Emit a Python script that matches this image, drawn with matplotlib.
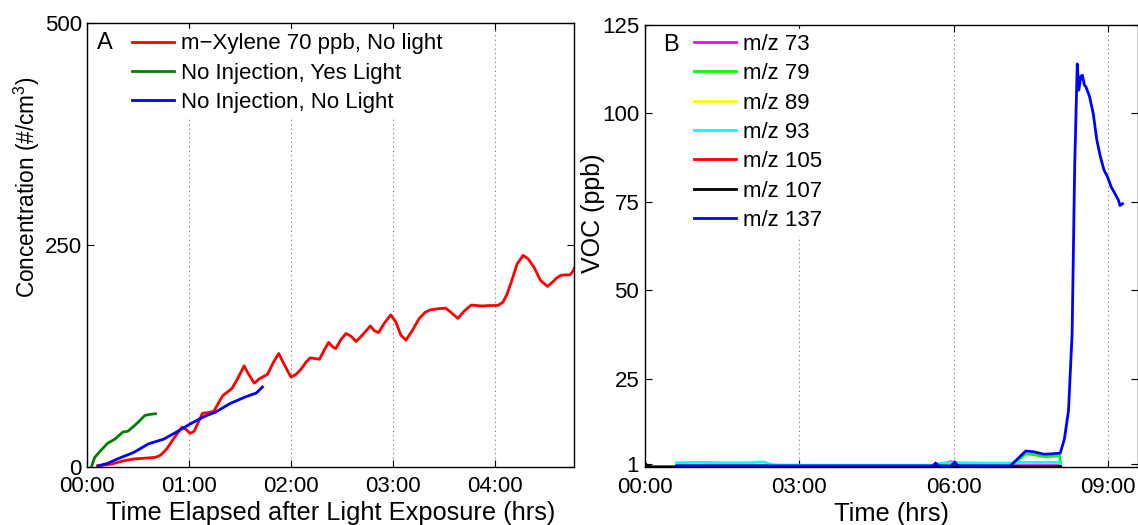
import matplotlib
matplotlib.use("Agg")
import matplotlib.pyplot as plt

plt.rcParams['font.family'] = ['Liberation Sans', 'DejaVu Sans']
plt.rcParams['mathtext.default'] = 'regular'

# ---------------- Panel A data (hours, #/cm3) ----------------
xylene_t = [0.10, 0.24, 0.35, 0.455, 0.67, 0.72, 0.78, 0.85, 0.93, 0.97, 1.01, 1.05, 1.13,
            1.24, 1.33, 1.42, 1.48, 1.54, 1.58, 1.64, 1.69, 1.77, 1.83, 1.88, 1.93, 2.00,
            2.05, 2.10, 2.15, 2.19, 2.28, 2.33, 2.37, 2.41, 2.44, 2.49, 2.54, 2.59, 2.64,
            2.70, 2.78, 2.82, 2.86, 2.92, 2.98, 3.03, 3.08, 3.13, 3.19, 3.26, 3.32, 3.37,
            3.45, 3.52, 3.58, 3.64, 3.70, 3.77, 3.88, 3.95, 4.03, 4.08, 4.12, 4.17, 4.22,
            4.28, 4.33, 4.39, 4.45, 4.52, 4.57, 4.61, 4.65, 4.70, 4.74, 4.77, 4.80]
xylene_v = [1, 3, 6.5, 8.7, 10.5, 13, 20, 32, 44.5, 42, 37.5, 40, 60,
            62, 80, 88, 100, 113.6, 105, 94, 99, 104, 118, 127.5, 116, 101,
            104, 110, 118, 122.6, 121, 132, 140, 135, 133, 143, 150, 147, 141,
            148, 158.5, 153, 151, 162, 171, 163, 148, 142.6, 153, 167, 174, 176.6,
            178, 178.5, 173, 167, 175, 182, 181, 181.5, 181.5, 185, 193.6, 210, 228,
            238, 234, 224, 210, 203, 208, 212.5, 215.5, 216, 216, 220, 227.5]

inj_light_t = [0.044, 0.073, 0.13, 0.20, 0.27, 0.35, 0.40, 0.49, 0.565, 0.62, 0.67]
inj_light_v = [1, 10.5, 18, 26.4, 31, 39, 40, 49, 57.7, 59, 59.6]

inj_dark_t = [0.11, 0.20, 0.31, 0.455, 0.60, 0.75, 0.86, 1.00, 1.15, 1.26, 1.40, 1.55, 1.66, 1.72]
inj_dark_v = [1, 3.8, 9.4, 16, 25.7, 31, 38, 47.5, 56.6, 61.5, 71, 78.5, 83, 89.8]

a_labels = ['m\u2212Xylene 70 ppb, No light', 'No Injection, Yes Light', 'No Injection, No Light']
a_xticks = [0, 1, 2, 3, 4]
a_xticklabels = ['00:00', '01:00', '02:00', '03:00', '04:00']
a_yticks = [0, 250, 500]

# ---------------- Panel B data (hours, ppb) ----------------
mz73_t = [0.62, 2.0, 5.6, 5.85, 5.95, 6.05, 6.15, 7.0, 8.07]
mz73_v = [0.5, 0.5, 0.5, 1.2, 1.6, 1.2, 0.5, 0.5, 0.5]

mz79_t = [0.62, 3.0, 7.1, 7.25, 7.4, 7.55, 7.75, 7.9, 8.06, 8.08]
mz79_v = [0.4, 0.4, 0.4, 2.0, 3.8, 3.6, 3.0, 3.1, 3.3, 0.6]

mz89_t = [0.62, 4.0, 8.07]
mz89_v = [0.4, 0.4, 0.4]

mz93_t = [0.62, 1.0, 1.5, 2.0, 2.3, 2.5, 3.0, 5.6, 5.8, 6.0, 6.1, 6.5, 7.0, 7.1, 7.3, 8.06, 8.08]
mz93_v = [1.3, 1.4, 1.3, 1.3, 1.5, 0.7, 0.6, 0.6, 1.2, 1.4, 1.3, 1.2, 1.2, 1.2, 1.4, 1.4, 0.5]

mz105_t = [0.62, 4.0, 8.07]
mz105_v = [0.3, 0.3, 0.3]

mz107_t = [0.0, 0.05, 0.12, 2.0, 5.0, 8.07]
mz107_v = [1.2, 0.5, 0.15, 0.15, 0.15, 0.15]

mz137_t = [0.62, 1.0, 2.0, 3.0, 4.0, 5.0, 5.6, 5.65, 5.72, 5.95, 6.02, 6.07, 6.12, 6.5, 7.0, 7.1,
           7.25, 7.4, 7.55, 7.75, 7.9, 8.07, 8.15, 8.23, 8.30, 8.35, 8.40, 8.43, 8.47, 8.50,
           8.54, 8.57, 8.64, 8.71, 8.78, 8.85, 8.92, 8.99, 9.06, 9.13, 9.20, 9.23, 9.28]
mz137_v = [0.4, 0.4, 0.4, 0.4, 0.4, 0.4, 0.4, 1.2, 0.4, 0.4, 1.5, 0.6, 0.4, 0.4, 0.4, 0.4,
           2.5, 4.6, 4.4, 3.7, 3.8, 4.0, 8.0, 16.0, 37.7, 85.0, 114.0, 106.6, 110.5, 110.8,
           108.0, 107.5, 104.7, 100.0, 92.5, 87.7, 84.0, 82.0, 79.2, 77.4, 75.5, 74.0, 74.5]

b_labels = ['m/z 73', 'm/z 79', 'm/z 89', 'm/z 93', 'm/z 105', 'm/z 107', 'm/z 137']
b_colors = ['#ff00ff', '#00ff00', '#ffff00', '#00ffff', '#ff0000', '#000000', '#0000ff']
b_xticks = [0, 3, 6, 9]
b_xticklabels = ['00:00', '03:00', '06:00', '09:00']
b_yticks = [1, 25, 50, 75, 100, 125]

# ---------------- Figure ----------------
fig = plt.figure(figsize=(11.38, 5.25), dpi=100)
W, H = 1138.0, 525.0
axA = fig.add_axes([87.3 / W, 1 - 466.7 / H, (574 - 87.3) / W, (466.7 - 22.7) / H])
axB = fig.add_axes([644.7 / W, 1 - 467.3 / H, (1137.5 - 644.7) / W, (467.3 - 25) / H])

LW = 2.0
axA.plot(xylene_t, xylene_v, color='#ff0000', lw=LW, label=a_labels[0])
axA.plot(inj_light_t, inj_light_v, color='#008000', lw=LW, label=a_labels[1])
axA.plot(inj_dark_t, inj_dark_v, color='#0000ff', lw=LW, label=a_labels[2])

b_series = [(mz73_t, mz73_v), (mz79_t, mz79_v), (mz89_t, mz89_v), (mz93_t, mz93_v),
            (mz105_t, mz105_v), (mz107_t, mz107_v), (mz137_t, mz137_v)]
for (t, v), c, lab in zip(b_series, b_colors, b_labels):
    axB.plot(t, v, color=c, lw=LW, label=lab)

axA.set_xlim(0, 4.78)
axA.set_ylim(0, 500)
axB.set_xlim(0, 9.57)
axB.set_ylim(0, 125)

axA.set_xticks(a_xticks)
axA.set_xticklabels(a_xticklabels)
axA.set_yticks(a_yticks)
axB.set_xticks(b_xticks)
axB.set_xticklabels(b_xticklabels)
axB.set_yticks(b_yticks)

for ax in (axA, axB):
    ax.tick_params(direction='in', top=True, right=True, length=5, width=0.8,
                   labelsize=16, pad=7, colors='black')
    ax.tick_params(axis='y', pad=4)
    for s in ax.spines.values():
        s.set_linewidth(1.0)
    ax.grid(True, axis='x', linestyle=(0, (1, 3)), color='0.45', linewidth=0.8)
    ax.set_axisbelow(True)

axA.set_xlabel('Time Elapsed after Light Exposure (hrs)', fontsize=18.3)
axA.set_ylabel('Concentration (#/cm$^3$)', fontsize=16.3)
axB.set_xlabel('Time (hrs)', fontsize=18.3)
axB.set_ylabel('VOC (ppb)', fontsize=18)
axA.xaxis.set_label_coords(0.5, -0.078)
axB.xaxis.set_label_coords(0.5, -0.078)
axA.yaxis.set_label_coords(-0.093, 0.629)
axB.yaxis.set_label_coords(-0.0806, 0.575)

leg_kw = dict(loc='upper left', fontsize=16, frameon=True, facecolor='white',
              edgecolor='white', framealpha=1, fancybox=False, handlelength=1.9,
              handletextpad=0.3, labelspacing=0.375, borderpad=0.2, borderaxespad=0)
axA.legend(bbox_to_anchor=(0.083, 0.986), **leg_kw)
axB.legend(bbox_to_anchor=(0.0905, 0.990), **leg_kw)

axA.text(0.02, 0.955, 'A', transform=axA.transAxes, fontsize=17, va='center', ha='left', zorder=10)
axB.text(0.038, 0.955, 'B', transform=axB.transAxes, fontsize=17, va='center', ha='left', zorder=10)

fig.savefig('out.png', dpi=100)
